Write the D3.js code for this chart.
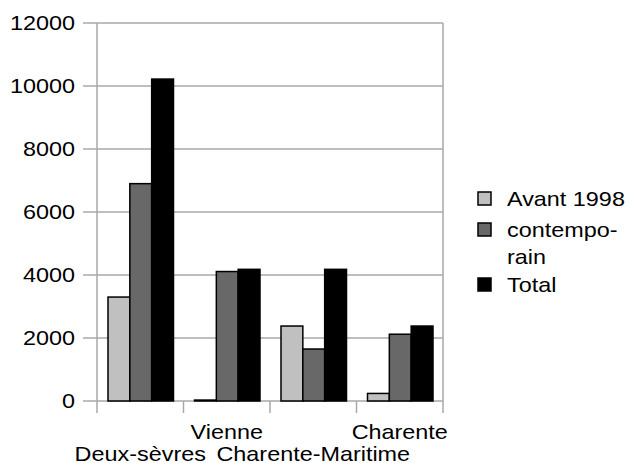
<!DOCTYPE html>
<html>
<head>
<meta charset="utf-8">
<script src="https://cdn.jsdelivr.net/npm/d3@7"></script>
<style>
  body { margin: 0; background: #fff; }
  text { font-family: "Liberation Sans", Arial, sans-serif; font-size: 20px; fill: #000; }
</style>
</head>
<body>
<svg id="chart" width="632" height="463"></svg>
<script>
var categories = ["Deux-sèvres", "Vienne", "Charente-Maritime", "Charente"];
var series = ["Avant 1998", "contemporain", "Total"];
var avant = [3300, 30, 2380, 240];
var contemporain = [6900, 4110, 1650, 2120];
var total = [10220, 4180, 4180, 2380];
var yTicks = [0, 2000, 4000, 6000, 8000, 10000, 12000];
var colors = ["#c0c0c0", "#686868", "#000000"];

var values = [avant, contemporain, total];
var svg = d3.select("#chart");
var sx = 1.17; // text looks horizontally stretched

var plotLeft = 97, plotRight = 443, plotTop = 23, plotBottom = 401;
var x0 = d3.scaleBand().domain(categories).range([plotLeft, plotRight]);
var x1 = d3.scaleBand().domain(series).range([11, x0.bandwidth() - 10]);
var y = d3.scaleLinear().domain([0, 12000]).range([plotBottom, plotTop]);

// gridlines + tick marks
svg.selectAll(".grid").data(yTicks).enter().append("line")
  .attr("x1", plotLeft - 14).attr("x2", plotRight)
  .attr("y1", d => y(d)).attr("y2", d => y(d))
  .attr("stroke", "#a8a8a8").attr("stroke-width", 1.5);

// left axis and right border
[plotLeft, plotRight].forEach(function(xx) {
  svg.append("line").attr("x1", xx).attr("x2", xx).attr("y1", plotTop).attr("y2", plotBottom + 12)
    .attr("stroke", "#a8a8a8").attr("stroke-width", 1.5);
});
// category ticks
svg.selectAll(".ctick").data(categories.slice(1)).enter().append("line")
  .attr("x1", d => x0(d)).attr("x2", d => x0(d))
  .attr("y1", plotBottom).attr("y2", plotBottom + 12)
  .attr("stroke", "#a8a8a8").attr("stroke-width", 1.5);

// y labels
svg.selectAll(".ylab").data(yTicks).enter().append("text")
  .attr("transform", d => "translate(75," + (y(d) + 7) + ") scale(" + sx + ",1)")
  .attr("text-anchor", "end")
  .text(d => d);

// bars
var groups = svg.selectAll(".grp").data(categories).enter().append("g")
  .attr("transform", d => "translate(" + x0(d) + ",0)");
groups.selectAll("rect").data(function(d, i) {
  return series.map(function(s, j) { return {s: s, v: values[j][i], c: colors[j]}; });
}).enter().append("rect")
  .attr("x", d => x1(d.s))
  .attr("width", x1.bandwidth())
  .attr("y", d => y(d.v))
  .attr("height", d => plotBottom - y(d.v))
  .attr("fill", d => d.c)
  .attr("stroke", "#000").attr("stroke-width", 1.5);

// category labels, staggered
svg.selectAll(".xlab").data(categories).enter().append("text")
  .attr("transform", function(d, i) {
    var yy = i % 2 == 0 ? 461 : 439;
    return "translate(" + (x0(d) + x0.bandwidth() / 2) + "," + yy + ") scale(" + sx + ",1)";
  })
  .attr("text-anchor", "middle")
  .text(d => d);

// legend
var legend = [
  {label: ["Avant 1998"], c: colors[0], y: 198},
  {label: ["contempo-", "rain"], c: colors[1], y: 229},
  {label: ["Total"], c: colors[2], y: 284}
];
legend.forEach(function(l) {
  svg.append("rect").attr("x", 478).attr("y", l.y - 6).attr("width", 13).attr("height", 13)
    .attr("fill", l.c).attr("stroke", "#000").attr("stroke-width", 1.5);
  l.label.forEach(function(t, k) {
    svg.append("text")
      .attr("transform", "translate(507," + (l.y + 8 + k * 27) + ") scale(" + sx + ",1)")
      .text(t);
  });
});
</script>
</body>
</html>
